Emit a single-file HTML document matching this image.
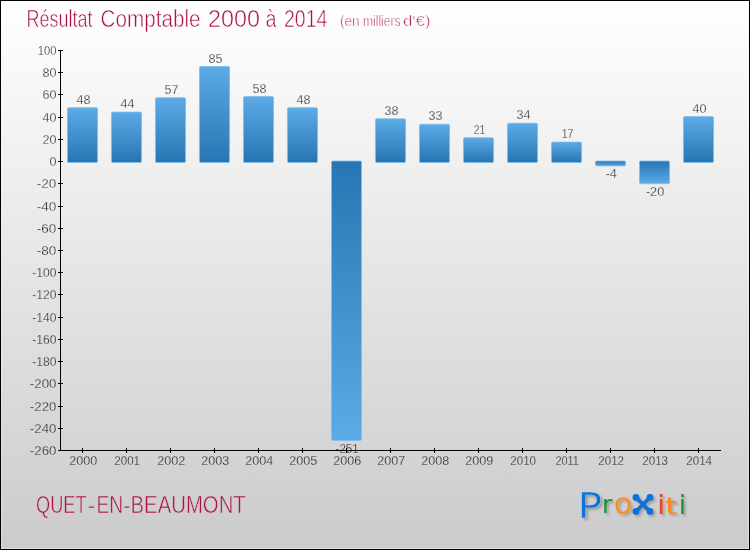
<!DOCTYPE html>
<html lang="fr"><head><meta charset="utf-8"><title>Résultat Comptable 2000 à 2014 - QUET-EN-BEAUMONT</title>
<style>
html,body{margin:0;padding:0;background:#fff;}
body{width:750px;height:550px;overflow:hidden;}
svg{display:block;}
text{font-family:"Liberation Sans","DejaVu Sans",sans-serif;}
.ax{fill:#1a1a1a;font-size:13.6px;}
.ttl{fill:#ab1049;}
text.lg{font-family:"DejaVu Sans","Liberation Sans",sans-serif;stroke-width:0.6;stroke-linejoin:round;}
</style></head><body>
<svg width="750" height="550" viewBox="0 0 750 550">
<defs>
<linearGradient id="bg" x1="0" y1="0" x2="0" y2="1"><stop offset="0" stop-color="#ffffff"/><stop offset="1" stop-color="#cbcbcb"/></linearGradient>
<linearGradient id="bp" x1="0" y1="0" x2="0" y2="1"><stop offset="0" stop-color="#5cabe6"/><stop offset="1" stop-color="#2776b3"/></linearGradient>
<linearGradient id="bn" x1="0" y1="0" x2="0" y2="1"><stop offset="0" stop-color="#2776b3"/><stop offset="1" stop-color="#5cabe6"/></linearGradient>
<filter id="sh" x="-5%" y="-15%" width="112%" height="135%"><feGaussianBlur in="SourceAlpha" stdDeviation="0.85" result="b"/><feOffset in="b" dx="1.8" dy="2" result="o"/><feFlood flood-color="#808080" flood-opacity="0.6" result="f"/><feComposite in="f" in2="o" operator="in" result="s"/><feMerge><feMergeNode in="s"/><feMergeNode in="SourceGraphic"/></feMerge></filter>
</defs>
<rect x="0" y="0" width="750" height="550" fill="#000"/>
<rect x="1" y="1" width="748" height="548" fill="url(#bg)"/>
<rect x="1.5" y="1.5" width="747" height="547" fill="none" stroke="#ffffff" stroke-opacity="0.35" stroke-width="1"/>
<text class="ttl" y="26.7" font-size="23.5" stroke="#fdfdfd" stroke-width="0.55"><tspan x="26.5" textLength="66" lengthAdjust="spacingAndGlyphs">Résultat</tspan> <tspan x="100.5" textLength="100" lengthAdjust="spacingAndGlyphs">Comptable</tspan> <tspan x="208" textLength="52" lengthAdjust="spacingAndGlyphs">2000</tspan> <tspan x="265.5" textLength="11" lengthAdjust="spacingAndGlyphs">à</tspan> <tspan x="284" textLength="43.5" lengthAdjust="spacingAndGlyphs">2014</tspan></text>
<text class="ttl" y="25.5" font-size="15" stroke="#fdfdfd" stroke-width="0.5"><tspan x="340" textLength="19.6" lengthAdjust="spacingAndGlyphs">(en</tspan> <tspan x="363" textLength="37.5" lengthAdjust="spacingAndGlyphs">milliers</tspan> <tspan x="403" textLength="27.5" lengthAdjust="spacingAndGlyphs">d&#39;€)</tspan></text>
<rect x="67.5" y="107.7" width="30" height="54.8" rx="1.3" fill="url(#bp)" stroke="#7dbdee" stroke-opacity="0.8" stroke-width="1"/>
<rect x="111.5" y="112.1" width="30" height="50.4" rx="1.3" fill="url(#bp)" stroke="#7dbdee" stroke-opacity="0.8" stroke-width="1"/>
<rect x="155.5" y="97.7" width="30" height="64.8" rx="1.3" fill="url(#bp)" stroke="#7dbdee" stroke-opacity="0.8" stroke-width="1"/>
<rect x="199.5" y="66.6" width="30" height="95.9" rx="1.3" fill="url(#bp)" stroke="#7dbdee" stroke-opacity="0.8" stroke-width="1"/>
<rect x="243.5" y="96.6" width="30" height="65.9" rx="1.3" fill="url(#bp)" stroke="#7dbdee" stroke-opacity="0.8" stroke-width="1"/>
<rect x="287.5" y="107.7" width="30" height="54.8" rx="1.3" fill="url(#bp)" stroke="#7dbdee" stroke-opacity="0.8" stroke-width="1"/>
<rect x="331.5" y="161.0" width="30" height="279.4" rx="1.3" fill="url(#bn)" stroke="#7dbdee" stroke-opacity="0.8" stroke-width="1"/>
<rect x="375.5" y="118.8" width="30" height="43.7" rx="1.3" fill="url(#bp)" stroke="#7dbdee" stroke-opacity="0.8" stroke-width="1"/>
<rect x="419.5" y="124.3" width="30" height="38.2" rx="1.3" fill="url(#bp)" stroke="#7dbdee" stroke-opacity="0.8" stroke-width="1"/>
<rect x="463.5" y="137.7" width="30" height="24.8" rx="1.3" fill="url(#bp)" stroke="#7dbdee" stroke-opacity="0.8" stroke-width="1"/>
<rect x="507.5" y="123.2" width="30" height="39.3" rx="1.3" fill="url(#bp)" stroke="#7dbdee" stroke-opacity="0.8" stroke-width="1"/>
<rect x="551.5" y="142.1" width="30" height="20.4" rx="1.3" fill="url(#bp)" stroke="#7dbdee" stroke-opacity="0.8" stroke-width="1"/>
<rect x="595.5" y="161.0" width="30" height="4.9" rx="1.3" fill="url(#bn)" stroke="#7dbdee" stroke-opacity="0.8" stroke-width="1"/>
<rect x="639.5" y="161.0" width="30" height="22.7" rx="1.3" fill="url(#bn)" stroke="#7dbdee" stroke-opacity="0.8" stroke-width="1"/>
<rect x="683.5" y="116.6" width="30" height="45.9" rx="1.3" fill="url(#bp)" stroke="#7dbdee" stroke-opacity="0.8" stroke-width="1"/>
<text class="ax" x="37.70" y="54.9" textLength="18.70" lengthAdjust="spacingAndGlyphs" stroke="#fafafa" stroke-width="0.3">100</text>
<text class="ax" x="42.38" y="77.1" textLength="14.02" lengthAdjust="spacingAndGlyphs" stroke="#f8f8f8" stroke-width="0.3">80</text>
<text class="ax" x="42.38" y="99.3" textLength="14.02" lengthAdjust="spacingAndGlyphs" stroke="#f6f6f6" stroke-width="0.3">60</text>
<text class="ax" x="42.38" y="121.6" textLength="14.02" lengthAdjust="spacingAndGlyphs" stroke="#f4f4f4" stroke-width="0.3">40</text>
<text class="ax" x="42.38" y="143.8" textLength="14.02" lengthAdjust="spacingAndGlyphs" stroke="#f2f2f2" stroke-width="0.3">20</text>
<text class="ax" x="49.39" y="166.0" textLength="7.01" lengthAdjust="spacingAndGlyphs" stroke="#f0f0f0" stroke-width="0.3">0</text>
<text class="ax" x="36.84" y="188.2" textLength="19.56" lengthAdjust="spacingAndGlyphs" stroke="#eeeeee" stroke-width="0.3">-20</text>
<text class="ax" x="36.84" y="210.5" textLength="19.56" lengthAdjust="spacingAndGlyphs" stroke="#ececec" stroke-width="0.3">-40</text>
<text class="ax" x="36.84" y="232.7" textLength="19.56" lengthAdjust="spacingAndGlyphs" stroke="#e9e9e9" stroke-width="0.3">-60</text>
<text class="ax" x="36.84" y="254.9" textLength="19.56" lengthAdjust="spacingAndGlyphs" stroke="#e7e7e7" stroke-width="0.3">-80</text>
<text class="ax" x="32.16" y="277.1" textLength="24.24" lengthAdjust="spacingAndGlyphs" stroke="#e5e5e5" stroke-width="0.3">-100</text>
<text class="ax" x="32.16" y="299.3" textLength="24.24" lengthAdjust="spacingAndGlyphs" stroke="#e3e3e3" stroke-width="0.3">-120</text>
<text class="ax" x="32.16" y="321.6" textLength="24.24" lengthAdjust="spacingAndGlyphs" stroke="#e1e1e1" stroke-width="0.3">-140</text>
<text class="ax" x="32.16" y="343.8" textLength="24.24" lengthAdjust="spacingAndGlyphs" stroke="#dfdfdf" stroke-width="0.3">-160</text>
<text class="ax" x="32.16" y="366.0" textLength="24.24" lengthAdjust="spacingAndGlyphs" stroke="#dddddd" stroke-width="0.3">-180</text>
<text class="ax" x="29.83" y="388.2" textLength="26.57" lengthAdjust="spacingAndGlyphs" stroke="#dbdbdb" stroke-width="0.3">-200</text>
<text class="ax" x="29.83" y="410.5" textLength="26.57" lengthAdjust="spacingAndGlyphs" stroke="#d9d9d9" stroke-width="0.3">-220</text>
<text class="ax" x="29.83" y="432.7" textLength="26.57" lengthAdjust="spacingAndGlyphs" stroke="#d6d6d6" stroke-width="0.3">-240</text>
<text class="ax" x="29.83" y="454.9" textLength="26.57" lengthAdjust="spacingAndGlyphs" stroke="#d4d4d4" stroke-width="0.3">-260</text>
<text class="ax" x="69.18" y="465.3" textLength="28.04" lengthAdjust="spacingAndGlyphs" stroke="#d3d3d3" stroke-width="0.3">2000</text>
<text class="ax" x="114.35" y="465.3" textLength="25.71" lengthAdjust="spacingAndGlyphs" stroke="#d3d3d3" stroke-width="0.3">2001</text>
<text class="ax" x="157.18" y="465.3" textLength="28.04" lengthAdjust="spacingAndGlyphs" stroke="#d3d3d3" stroke-width="0.3">2002</text>
<text class="ax" x="201.18" y="465.3" textLength="28.04" lengthAdjust="spacingAndGlyphs" stroke="#d3d3d3" stroke-width="0.3">2003</text>
<text class="ax" x="245.18" y="465.3" textLength="28.04" lengthAdjust="spacingAndGlyphs" stroke="#d3d3d3" stroke-width="0.3">2004</text>
<text class="ax" x="289.18" y="465.3" textLength="28.04" lengthAdjust="spacingAndGlyphs" stroke="#d3d3d3" stroke-width="0.3">2005</text>
<text class="ax" x="333.18" y="465.3" textLength="28.04" lengthAdjust="spacingAndGlyphs" stroke="#d3d3d3" stroke-width="0.3">2006</text>
<text class="ax" x="377.18" y="465.3" textLength="28.04" lengthAdjust="spacingAndGlyphs" stroke="#d3d3d3" stroke-width="0.3">2007</text>
<text class="ax" x="421.18" y="465.3" textLength="28.04" lengthAdjust="spacingAndGlyphs" stroke="#d3d3d3" stroke-width="0.3">2008</text>
<text class="ax" x="465.18" y="465.3" textLength="28.04" lengthAdjust="spacingAndGlyphs" stroke="#d3d3d3" stroke-width="0.3">2009</text>
<text class="ax" x="510.35" y="465.3" textLength="25.71" lengthAdjust="spacingAndGlyphs" stroke="#d3d3d3" stroke-width="0.3">2010</text>
<text class="ax" x="555.51" y="465.3" textLength="23.38" lengthAdjust="spacingAndGlyphs" stroke="#d3d3d3" stroke-width="0.3">2011</text>
<text class="ax" x="598.35" y="465.3" textLength="25.71" lengthAdjust="spacingAndGlyphs" stroke="#d3d3d3" stroke-width="0.3">2012</text>
<text class="ax" x="642.35" y="465.3" textLength="25.71" lengthAdjust="spacingAndGlyphs" stroke="#d3d3d3" stroke-width="0.3">2013</text>
<text class="ax" x="686.35" y="465.3" textLength="25.71" lengthAdjust="spacingAndGlyphs" stroke="#d3d3d3" stroke-width="0.3">2014</text>
<text class="ax" x="76.49" y="103.8" textLength="14.02" lengthAdjust="spacingAndGlyphs" stroke="#f6f6f6" stroke-width="0.3">48</text>
<text class="ax" x="120.49" y="108.2" textLength="14.02" lengthAdjust="spacingAndGlyphs" stroke="#f5f5f5" stroke-width="0.3">44</text>
<text class="ax" x="164.49" y="93.8" textLength="14.02" lengthAdjust="spacingAndGlyphs" stroke="#f7f7f7" stroke-width="0.3">57</text>
<text class="ax" x="208.49" y="62.7" textLength="14.02" lengthAdjust="spacingAndGlyphs" stroke="#fafafa" stroke-width="0.3">85</text>
<text class="ax" x="252.49" y="92.7" textLength="14.02" lengthAdjust="spacingAndGlyphs" stroke="#f7f7f7" stroke-width="0.3">58</text>
<text class="ax" x="296.49" y="103.8" textLength="14.02" lengthAdjust="spacingAndGlyphs" stroke="#f6f6f6" stroke-width="0.3">48</text>
<text class="ax" x="335.55" y="452.8" textLength="23.09" lengthAdjust="spacingAndGlyphs" stroke="#d5d5d5" stroke-width="0.3">-251</text>
<text class="ax" x="384.49" y="114.9" textLength="14.02" lengthAdjust="spacingAndGlyphs" stroke="#f5f5f5" stroke-width="0.3">38</text>
<text class="ax" x="428.49" y="120.4" textLength="14.02" lengthAdjust="spacingAndGlyphs" stroke="#f4f4f4" stroke-width="0.3">33</text>
<text class="ax" x="473.66" y="133.8" textLength="11.69" lengthAdjust="spacingAndGlyphs" stroke="#f3f3f3" stroke-width="0.3">21</text>
<text class="ax" x="516.49" y="119.3" textLength="14.02" lengthAdjust="spacingAndGlyphs" stroke="#f4f4f4" stroke-width="0.3">34</text>
<text class="ax" x="561.66" y="138.2" textLength="11.69" lengthAdjust="spacingAndGlyphs" stroke="#f2f2f2" stroke-width="0.3">17</text>
<text class="ax" x="605.40" y="178.3" textLength="11.40" lengthAdjust="spacingAndGlyphs" stroke="#efefef" stroke-width="0.3">-4</text>
<text class="ax" x="645.89" y="196.1" textLength="18.41" lengthAdjust="spacingAndGlyphs" stroke="#ededed" stroke-width="0.3">-20</text>
<text class="ax" x="692.49" y="112.7" textLength="14.02" lengthAdjust="spacingAndGlyphs" stroke="#f5f5f5" stroke-width="0.3">40</text>
<g stroke="#000" stroke-width="1" fill="none" shape-rendering="crispEdges">
<line x1="60.5" y1="50" x2="60.5" y2="451"/>
<line x1="60" y1="450.5" x2="721" y2="450.5"/>
<line x1="58" y1="50.5" x2="63" y2="50.5"/>
<line x1="58" y1="72.5" x2="63" y2="72.5"/>
<line x1="58" y1="94.5" x2="63" y2="94.5"/>
<line x1="58" y1="117.5" x2="63" y2="117.5"/>
<line x1="58" y1="139.5" x2="63" y2="139.5"/>
<line x1="58" y1="161.5" x2="63" y2="161.5"/>
<line x1="58" y1="183.5" x2="63" y2="183.5"/>
<line x1="58" y1="206.5" x2="63" y2="206.5"/>
<line x1="58" y1="228.5" x2="63" y2="228.5"/>
<line x1="58" y1="250.5" x2="63" y2="250.5"/>
<line x1="58" y1="272.5" x2="63" y2="272.5"/>
<line x1="58" y1="294.5" x2="63" y2="294.5"/>
<line x1="58" y1="317.5" x2="63" y2="317.5"/>
<line x1="58" y1="339.5" x2="63" y2="339.5"/>
<line x1="58" y1="361.5" x2="63" y2="361.5"/>
<line x1="58" y1="383.5" x2="63" y2="383.5"/>
<line x1="58" y1="406.5" x2="63" y2="406.5"/>
<line x1="58" y1="428.5" x2="63" y2="428.5"/>
<line x1="58" y1="450.5" x2="63" y2="450.5"/>
<line x1="82.5" y1="448" x2="82.5" y2="453"/>
<line x1="126.5" y1="448" x2="126.5" y2="453"/>
<line x1="170.5" y1="448" x2="170.5" y2="453"/>
<line x1="214.5" y1="448" x2="214.5" y2="453"/>
<line x1="258.5" y1="448" x2="258.5" y2="453"/>
<line x1="302.5" y1="448" x2="302.5" y2="453"/>
<line x1="346.5" y1="448" x2="346.5" y2="453"/>
<line x1="390.5" y1="448" x2="390.5" y2="453"/>
<line x1="434.5" y1="448" x2="434.5" y2="453"/>
<line x1="478.5" y1="448" x2="478.5" y2="453"/>
<line x1="522.5" y1="448" x2="522.5" y2="453"/>
<line x1="566.5" y1="448" x2="566.5" y2="453"/>
<line x1="610.5" y1="448" x2="610.5" y2="453"/>
<line x1="654.5" y1="448" x2="654.5" y2="453"/>
<line x1="698.5" y1="448" x2="698.5" y2="453"/>
</g>
<text class="ttl" y="513.1" font-size="24.5" stroke="#cfcfcf" stroke-width="0.6"><tspan x="36" textLength="50.5" lengthAdjust="spacingAndGlyphs">QUET</tspan><tspan x="87.7" textLength="7.4" lengthAdjust="spacingAndGlyphs">-</tspan><tspan x="96.5" textLength="26.8" lengthAdjust="spacingAndGlyphs">EN</tspan><tspan x="123.2" textLength="7.2" lengthAdjust="spacingAndGlyphs">-</tspan><tspan x="130.5" textLength="115.3" lengthAdjust="spacingAndGlyphs">BEAUMONT</tspan></text>
<g filter="url(#sh)">
<text class="lg" ><tspan x="577.70" y="517.90" font-size="35.0" textLength="24.4" lengthAdjust="spacingAndGlyphs" fill="#1173dc" stroke="#cfcfcf" stroke-width="0.4">P</tspan><tspan x="602.05" y="513.15" font-size="24.74" fill="#14973a" stroke="#14973a" stroke-width="0.15">r</tspan><tspan x="613.71" y="514.04" font-size="30.13" fill="#ff8a0f" stroke="#cfcfcf" stroke-width="0.3">o</tspan><tspan x="637.58" y="509.75" font-size="18.25" fill="#0e72d8" stroke="#0e72d8" stroke-width="0.3">x</tspan><tspan x="657.45" y="514.35" font-size="26.43" fill="#f2421b" stroke="#f2421b" stroke-width="0.2">i</tspan><tspan x="665.30" y="513.75" font-size="23.4" textLength="11.9" lengthAdjust="spacingAndGlyphs" fill="#ff8a0f" stroke="#ff8a0f" stroke-width="0.2">t</tspan><tspan x="678.68" y="514.35" font-size="26.43" fill="#14973a" stroke="#14973a" stroke-width="0.2">i</tspan></text>
<g fill="#0e72d8" stroke="#0e72d8" stroke-width="3.7" stroke-linecap="round"><line x1="636" y1="497.4" x2="650" y2="511.4"/><line x1="650" y1="497.4" x2="636" y2="511.4"/><circle cx="636" cy="497.4" r="3.45" stroke="none"/><circle cx="650" cy="497.4" r="3.45" stroke="none"/><circle cx="636" cy="511.4" r="3.45" stroke="none"/><circle cx="650" cy="511.4" r="3.45" stroke="none"/></g>
</g>
</svg>
</body></html>
